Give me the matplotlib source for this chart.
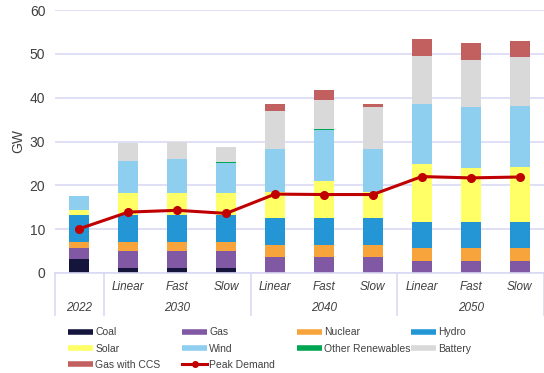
import matplotlib.pyplot as plt
from matplotlib.lines import Line2D
from matplotlib.transforms import blended_transform_factory

plt.rcParams['font.family'] = ['Liberation Sans', 'DejaVu Sans']

# one bar per year/scenario
scenarios = ["", "Linear", "Fast", "Slow", "Linear", "Fast", "Slow", "Linear", "Fast", "Slow"]
years = ["2022", "2030", "2040", "2050"]
year_span = [1, 3, 3, 3]

# installed capacity by technology (GW)
coal = [3.2, 1.1, 1.1, 1.1, 0, 0, 0, 0, 0, 0]
gas = [2.5, 4.0, 4.0, 4.0, 3.7, 3.7, 3.7, 2.7, 2.7, 2.7]
nuclear = [1.45, 2.0, 2.0, 2.0, 2.7, 2.7, 2.7, 2.9, 2.9, 2.9]
hydro = [6.05, 6.1, 6.1, 6.1, 6.2, 6.2, 6.2, 6.0, 6.0, 6.0]
solar = [1.2, 5.0, 5.0, 5.0, 5.9, 8.5, 5.9, 13.2, 12.4, 12.5]
wind = [3.1, 7.3, 7.7, 7.0, 9.7, 11.5, 9.9, 13.8, 13.9, 14.1]
other_ren = [0.15, 0.1, 0.2, 0.2, 0.2, 0.3, 0.0, 0.0, 0.0, 0.0]
battery = [0, 4.1, 3.9, 3.3, 8.6, 6.6, 9.5, 11.0, 10.8, 11.0]
gas_ccs = [0, 0, 0, 0, 1.6, 2.2, 0.6, 3.8, 3.7, 3.7]
peak_demand = [10.1, 13.9, 14.3, 13.6, 18.0, 17.9, 17.9, 22.0, 21.7, 21.9]

series = [
    ("Coal", coal, "#14143c"),
    ("Gas", gas, "#8158a4"),
    ("Nuclear", nuclear, "#f7a43c"),
    ("Hydro", hydro, "#2496d6"),
    ("Solar", solar, "#ffff66"),
    ("Wind", wind, "#8ecff0"),
    ("Other Renewables", other_ren, "#00a651"),
    ("Battery", battery, "#d9d9d9"),
    ("Gas with CCS", gas_ccs, "#c2605f"),
]
demand_color = "#c00000"
grid_color = "#d9d9f3"
text_color = "#404040"

fig = plt.figure(figsize=(5.44, 3.73), dpi=100)
ax = fig.add_axes([55 / 544, 1 - 273 / 373, 489 / 544, 263 / 373])

x = list(range(len(scenarios)))
bottom = [0.0] * len(x)
for name, vals, color in series:
    ax.bar(x, vals, width=0.41, bottom=bottom, color=color, zorder=2)
    bottom = [b + v for b, v in zip(bottom, vals)]

ax.plot(x, peak_demand, color=demand_color, lw=2.2, marker="o", ms=5.5, zorder=3)

ax.set_xlim(-0.5, len(x) - 0.5)
ax.set_ylim(0, 60)
ax.set_yticks(range(0, 61, 10))
ax.yaxis.grid(True, color=grid_color, lw=1.2, zorder=0)
ax.tick_params(axis="y", length=0, labelsize=10, labelcolor=text_color, pad=7)
ax.set_xticks([])
for side in ["top", "right", "left"]:
    ax.spines[side].set_visible(False)
ax.spines["bottom"].set_color(grid_color)
ax.spines["bottom"].set_linewidth(1.2)
ax.set_ylabel("GW", fontsize=10, color=text_color)
ax.yaxis.set_label_coords((25 - 55) / 489, (273 - 141) / 263)

# two-level category axis
trans = blended_transform_factory(ax.transData, ax.transAxes)
for i, s in enumerate(scenarios):
    ax.text(i, -0.055, s, transform=trans, ha="center", va="center",
            fontsize=8.5, style="italic", color=text_color)
start = 0
edges = [-0.5]
for yr, span in zip(years, year_span):
    mid = start + (span - 1) / 2
    ax.text(mid, -0.133, yr, transform=trans, ha="center", va="center",
            fontsize=8.5, style="italic", color=text_color)
    start += span
    edges.append(start - 0.5)
for e in edges:
    ax.add_line(Line2D([e, e], [0, -0.16], transform=trans, color=grid_color,
                       lw=1.2, clip_on=False))

# legend laid out in four fixed-width columns
handles = [Line2D([], [], color=c, lw=4, solid_capstyle="butt") for _, _, c in series]
labels = [n for n, _, _ in series]
handles.append(Line2D([], [], color=demand_color, lw=2.2, marker="o", ms=4))
labels.append("Peak Demand")
columns = [[0, 4, 8], [1, 5, 9], [2, 6], [3, 7]]
col_x = [63, 177, 292, 406]
for cx, idx in zip(col_x, columns):
    fig.legend([handles[i] for i in idx], [labels[i] for i in idx],
               loc="upper left", bbox_to_anchor=(cx / 544, 1 - 322 / 373),
               frameon=False, fontsize=7.5, handlelength=2.4, handletextpad=0.2,
               labelspacing=0.62, borderpad=0, labelcolor=text_color)

fig.savefig("out.png", dpi=100)
